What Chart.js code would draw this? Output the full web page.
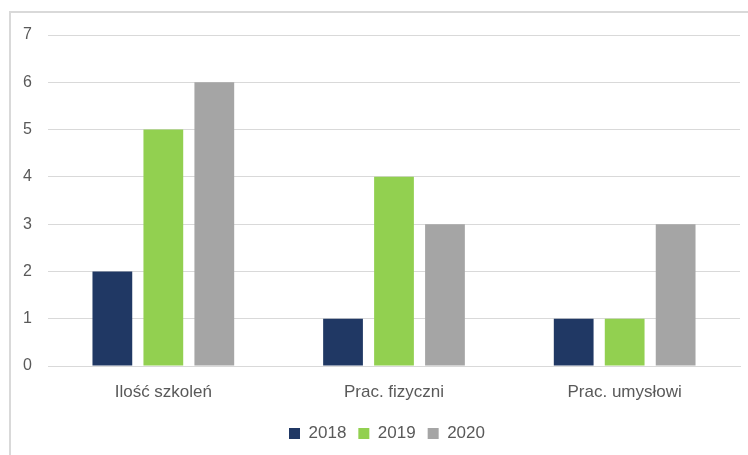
<!DOCTYPE html>
<html lang="pl">
<head>
<meta charset="utf-8">
<title>Szkolenia 2018-2020</title>
<script src="https://cdn.jsdelivr.net/npm/chart.js"></script>
<style>
  html, body { margin: 0; padding: 0; background: #fff; overflow: hidden; }
  .frame {
    position: absolute;
    left: 9px;
    top: 11px;
    width: 752px;
    height: 444px;
    border: 2px solid #d9d9d9;
    border-right: none;
    border-bottom: none;
  }
  #chart { display: block; }
</style>
</head>
<body>
<div class="frame">
  <canvas id="chart" width="752" height="444"></canvas>
</div>
<script>
  // kategorie i wartości dla poszczególnych lat
  var categories = ['Ilość szkoleń', 'Prac. fizyczni', 'Prac. umysłowi'];
  var years = ['2018', '2019', '2020'];
  var values2018 = [2, 1, 1];
  var values2019 = [5, 4, 1];
  var values2020 = [6, 3, 3];
  var colors = ['#203864', '#92d050', '#a5a5a5'];
  var yTicks = [0, 1, 2, 3, 4, 5, 6, 7];

  var textColor = '#595959';
  var gridColor = '#d9d9d9';

  Chart.defaults.font.family = '"Liberation Sans", Arial, sans-serif';
  Chart.defaults.font.size = 16;
  Chart.defaults.color = textColor;

  var series = [values2018, values2019, values2020];
  var datasets = years.map(function (y, i) {
    return {
      label: y,
      data: series[i],
      backgroundColor: colors[i],
      borderWidth: 0,
      categoryPercentage: 0.663,
      barPercentage: 0.78
    };
  });

  new Chart(document.getElementById('chart'), {
    type: 'bar',
    data: { labels: categories, datasets: datasets },
    options: {
      responsive: false,
      animation: false,
      layout: { padding: { top: 22, right: 0, bottom: 5, left: 0 } },
      plugins: {
        tooltip: { enabled: false },
        legend: {
          position: 'bottom',
          labels: {
            boxWidth: 11,
            boxHeight: 11,
            padding: 12,
            color: textColor,
            font: { size: 17 }
          }
        }
      },
      scales: {
        x: {
          afterFit: function (scale) { scale.height = 47; },
          grid: { display: false, drawTicks: false },
          border: { display: true, color: gridColor, width: 1 },
          ticks: { padding: 16, color: textColor, font: { size: 17 } }
        },
        y: {
          min: 0,
          max: 7,
          afterFit: function (scale) { scale.width = 37; },
          afterBuildTicks: function (scale) {
            scale.ticks = yTicks.map(function (v) { return { value: v }; });
          },
          grid: { color: gridColor, lineWidth: 1, drawTicks: false },
          border: { display: false },
          // niski lineHeight, żeby etykieta "7" nie wypychała obszaru wykresu w dół
          ticks: { padding: 16, color: textColor, font: { size: 16, lineHeight: 0.7 } }
        },
        // pusty margines po prawej, żeby legenda była wyśrodkowana nad wykresem
        spacer: {
          type: 'linear',
          position: 'right',
          afterFit: function (scale) { scale.width = 23; },
          grid: { display: false, drawTicks: false },
          border: { display: false },
          ticks: { display: false }
        }
      }
    }
  });
</script>
</body>
</html>
